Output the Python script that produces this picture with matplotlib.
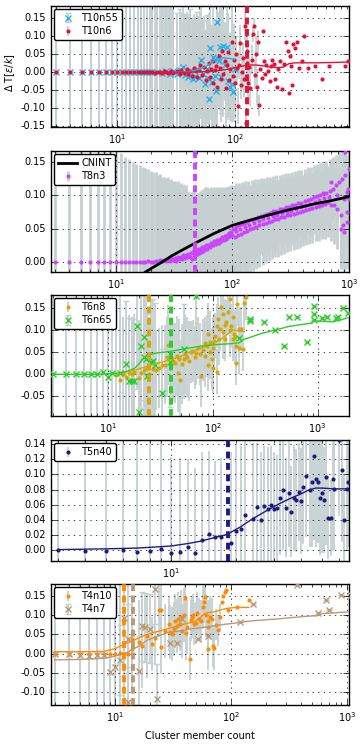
import matplotlib
matplotlib.use('Agg')
import matplotlib.pyplot as plt
from matplotlib.ticker import MultipleLocator

# ---- panel 1 : T10 ----
t10n55_x = [3, 4, 5, 6, 7, 8, 9, 10, 11, 12, 13, 14, 15, 16, 17, 18, 19, 20,
            22, 24, 26, 28, 30, 32, 34, 36, 38, 40, 42, 44, 46, 48, 50, 52, 54, 56, 58, 60,
            61, 62, 64, 66, 68, 69, 71, 72, 74, 75, 77, 80, 83, 86, 88, 92, 95, 97, 100]
t10n55_y = [0.0, 0.0, 0.0, 0.0, 0.0, 0.0, 0.0, 0.0, 0.0, 0.0, 0.0, 0.0, 0.0, 0.0, 0.0, 0.0, 0.0, 0.0,
            0.001, -0.002, 0.003, -0.004, 0.002, -0.006, 0.005, 0.014, -0.008, -0.012,
            0.004, -0.02, -0.01, 0.008, -0.015, 0.033, -0.006, -0.033, 0.01, -0.02,
            -0.075, 0.066, -0.028, 0.041, -0.01, -0.053, 0.138, 0.036, 0.03, 0.07,
            -0.012, 0.072, 0.02, 0.07, -0.025, -0.04, -0.033, -0.056, 0.01]
t10n55_err = [0.35, 0.35, 0.35, 0.35, 0.35, 0.35, 0.35, 0.35, 0.35, 0.35, 0.35, 0.35, 0.35, 0.35, 0.35, 0.35, 0.35, 0.35,
              0.2, 0.2, 0.2, 0.19, 0.19, 0.17, 0.17, 0.17, 0.17, 0.17, 0.17, 0.17, 0.16, 0.16, 0.16,
              0.15, 0.15, 0.15, 0.15, 0.15, 0.15, 0.14, 0.15, 0.14, 0.15, 0.12, 0.12, 0.13, 0.11,
              0.12, 0.1, 0.12, 0.09, 0.11, 0.1, 0.09, 0.1, 0.08, 0.09]

t10n6_x = [3, 4, 5, 6, 7, 8, 9, 10, 11, 12, 13, 14, 15, 16, 17, 18, 19, 20, 21, 22, 23, 24, 25, 26, 27, 28, 29, 30,
           32, 34, 35, 37, 39, 40, 42, 43, 45, 47, 48, 50, 51, 53, 55, 57, 58, 60, 62, 63,
           65, 66, 68, 70, 71, 73, 75, 76, 78, 80, 82, 84, 86, 88, 90, 92, 94, 96, 98, 100,
           103, 105, 106, 108, 110, 112, 115, 118, 120, 123, 124, 126, 128, 130, 133, 136, 140, 143, 145, 148,
           152, 155, 158, 160, 165, 170, 174, 178, 182, 186, 190, 198, 202, 208, 215, 222, 229, 235, 244, 254,
           262, 274, 282, 290, 294, 300, 306, 314, 326, 339, 350, 372, 386, 420, 483, 553, 630, 870, 925]
t10n6_y = [0.0, 0.0, 0.0, 0.0, 0.0, 0.0, 0.0, 0.0, 0.0, 0.0, 0.0, 0.0, 0.0, 0.0, 0.0, 0.0, 0.001, 0.0,
           -0.001, 0.0, 0.001, -0.001, 0.002, 0.0, -0.002, 0.001, 0.002, -0.001,
           0.003, -0.004, 0.006, -0.002, 0.008, -0.006, 0.002, -0.01, 0.012, 0.004,
           -0.014, 0.007, 0.02, -0.008, 0.015, -0.022, 0.003, 0.025, -0.012, 0.01,
           0.03, -0.03, 0.005, 0.018, -0.04, 0.045, 0.012, -0.018, 0.06, -0.005,
           0.03, -0.045, 0.02, 0.055, -0.022, 0.01, 0.083, -0.01, 0.035, -0.03,
           0.05, 0.013, -0.095, 0.02, 0.08, -0.035, 0.0, 0.04, -0.02, 0.129,
           -0.14, 0.06, 0.025, -0.03, 0.015, -0.045, 0.035, 0.105, 0.129, -0.008,
           0.05, -0.04, 0.083, -0.092, 0.01, -0.015, 0.115, 0.03, -0.005, 0.02,
           0.003, -0.025, 0.017, 0.033, 0.022, -0.02, -0.042, 0.008, 0.03, -0.047,
           0.022, 0.083, 0.06, -0.058, 0.044, 0.017, -0.036, 0.078, 0.067, 0.083,
           0.012, 0.03, 0.1, 0.013, 0.017, -0.02, 0.017, 0.017, 0.03]
t10n6_err = [0.35, 0.35, 0.35, 0.35, 0.35, 0.35, 0.35, 0.35, 0.35, 0.35, 0.35, 0.35, 0.35, 0.35,
             0.35, 0.35, 0.35, 0.35, 0.35, 0.35, 0.35, 0.35, 0.35, 0.35, 0.35, 0.35, 0.35, 0.35,
             0.16, 0.16, 0.16, 0.16, 0.16, 0.16, 0.16, 0.16, 0.15, 0.15, 0.15, 0.15, 0.15, 0.15,
             0.14, 0.14, 0.14, 0.14,
             0.12, 0.12, 0.12, 0.12, 0.12, 0.12, 0.12, 0.12, 0.12, 0.12, 0.12, 0.12, 0.11, 0.11,
             0.11, 0.11, 0.1, 0.1, 0.1, 0.1, 0.1, 0.1,
             0.05, 0.04, 0.05, 0.04, 0.05, 0.04, 0.05, 0.04, 0.05, 0.04, 0.02, 0.04, 0.05, 0.05,
             0.04, 0.05, 0.04, 0.02, 0.02, 0.04, 0.05, 0.05, 0.03, 0.03,
             0.0, 0.0, 0.0, 0.0, 0.0, 0.0, 0.0, 0.0, 0.0, 0.0, 0.0, 0.0, 0.0, 0.0, 0.0, 0.0, 0.0,
             0.0, 0.0, 0.0, 0.0, 0.0, 0.0, 0.0, 0.0, 0.0, 0.0, 0.0, 0.0, 0.0, 0.0, 0.0, 0.0, 0.0, 0.0]
t10n55_fit_x = [30, 40, 50, 55, 60, 65, 70, 80, 90, 100]
t10n55_fit_y = [0.0, 0.001, 0.008, 0.014, 0.021, 0.029, 0.036, 0.04, 0.038, 0.036]
t10n6_fit_x = [30, 40, 50, 60, 70, 80, 90, 100, 110, 120, 130, 150, 180, 200, 230, 260, 290, 330, 400, 500, 700, 900]
t10n6_fit_y = [0.0, 0.0, 0.001, 0.002, 0.004, 0.006, 0.009, 0.012, 0.015, 0.018, 0.02, 0.02, 0.017,
               0.014, 0.013, 0.014, 0.024, 0.026, 0.026, 0.026, 0.027, 0.028]
t10_cut = 128

# ---- panel 2 : T8 ----
t8n3_x = [3, 4, 5, 6, 7, 8, 9, 10, 11, 12, 13, 14, 15, 16, 17, 18, 19, 20,
          21, 22, 23, 24, 25, 26, 27, 28, 29, 30, 31, 32, 33, 34, 35, 36, 37, 38, 39, 40,
          41, 42, 43, 44, 45, 46, 47, 48, 49, 50, 51, 52, 53, 54, 55, 56, 57, 58, 59, 60,
          62, 64, 66, 68, 70, 72, 74, 76, 78, 80, 82, 84, 86, 88, 90, 92, 94, 96, 98, 100,
          102, 105, 108, 111, 114, 118, 121, 125, 129, 133, 137, 141, 146, 150, 155, 160, 165, 170, 175, 181,
          186, 192, 198, 204, 211, 217, 224, 231, 238, 246, 253, 261, 269, 278, 287, 296, 305, 314, 324, 334,
          345, 356, 367, 378, 390, 402, 415, 428, 441, 455, 469, 484, 499, 515, 531, 548, 565, 583, 601, 620,
          639, 659, 680, 701, 723, 746, 769, 793, 818, 843, 870, 897, 925, 954, 984,
          700, 780, 850, 880, 900, 920, 950, 960, 990, 1000,
          107, 116, 127, 139, 152, 168, 184, 201, 221, 243, 265, 291, 319, 350, 384, 421, 461, 507, 556, 611, 671]
t8n3_y = [0.0, 0.0, 0.0, 0.0, 0.0, 0.0, 0.0, 0.0, 0.0, 0.0, 0.0, 0.0, 0.0, 0.0, 0.0, 0.0, 0.001, 0.0,
          0.0, 0.002, 0.0, 0.003, 0.001, 0.003, 0.002, 0.005, 0.002, 0.006,
          0.003, 0.006, 0.002, 0.008, 0.004, 0.008, 0.005, 0.01, 0.006, 0.011,
          0.007, 0.012, 0.008, 0.013, 0.005, 0.015, 0.018, 0.01, 0.016, 0.012,
          0.019, 0.014, 0.02, 0.015, 0.022, 0.017, 0.023, 0.019, 0.025, 0.02,
          0.026, 0.022, 0.029, 0.025, 0.031, 0.027, 0.033, 0.029, 0.035, 0.031,
          0.037, 0.033, 0.039, 0.035, 0.041, 0.037, 0.043, 0.039, 0.045, 0.041,
          0.05, 0.038, 0.053, 0.041, 0.055, 0.042, 0.057, 0.045, 0.059, 0.047,
          0.061, 0.049, 0.063, 0.051, 0.065, 0.053, 0.067, 0.055, 0.069, 0.057,
          0.07, 0.058, 0.072, 0.06, 0.074, 0.062, 0.076, 0.064, 0.077, 0.065,
          0.079, 0.067, 0.08, 0.068, 0.082, 0.07, 0.083, 0.071, 0.085, 0.072,
          0.086, 0.074, 0.088, 0.075, 0.089, 0.077, 0.091, 0.078, 0.093, 0.08,
          0.095, 0.081, 0.097, 0.083, 0.099, 0.084, 0.101, 0.086, 0.104, 0.087,
          0.103, 0.09, 0.107, 0.086, 0.11, 0.085, 0.115, 0.08, 0.12, 0.07,
          0.125, 0.095, 0.13, 0.06, 0.11,
          0.12, 0.1, 0.05, 0.055, 0.045, 0.165, 0.105, 0.075, 0.14, 0.095,
          0.046, 0.049, 0.052, 0.055, 0.058, 0.061, 0.064, 0.066, 0.069, 0.071,
          0.073, 0.075, 0.077, 0.08, 0.082, 0.084, 0.087, 0.09, 0.093, 0.096, 0.097]
t8n3_err = [0.3, 0.3, 0.3, 0.3, 0.3, 0.3, 0.3, 0.167, 0.163, 0.158, 0.154, 0.15, 0.147, 0.145, 0.143,
            0.141, 0.139, 0.137,
            0.135, 0.133, 0.131, 0.129, 0.127, 0.125, 0.124, 0.122, 0.121, 0.119,
            0.118, 0.116, 0.115, 0.113, 0.112, 0.11, 0.109, 0.107, 0.106, 0.104,
            0.097, 0.095, 0.094, 0.092, 0.092, 0.09, 0.087, 0.092, 0.087, 0.09,
            0.085, 0.09, 0.086, 0.091, 0.086, 0.092, 0.087, 0.093, 0.087, 0.093,
            0.085, 0.088, 0.083, 0.086, 0.081, 0.084, 0.079, 0.082, 0.077, 0.08,
            0.075, 0.078, 0.073, 0.076, 0.072, 0.075, 0.071, 0.074, 0.07, 0.073,
            0.066, 0.07, 0.065, 0.069, 0.064, 0.068, 0.063, 0.067, 0.062, 0.066,
            0.061, 0.065, 0.06, 0.064, 0.059, 0.063, 0.058, 0.062, 0.057, 0.061,
            0.056, 0.06, 0.055, 0.059, 0.054, 0.058, 0.053, 0.057, 0.053, 0.057,
            0.052, 0.056, 0.052, 0.056, 0.051, 0.055, 0.051, 0.055, 0.05, 0.054,
            0.05, 0.054, 0.05, 0.054, 0.049, 0.053, 0.049, 0.053, 0.049, 0.053,
            0.048, 0.052, 0.048, 0.052, 0.048, 0.052, 0.048, 0.052, 0.048, 0.052,
            0.048, 0.052, 0.048, 0.055, 0.047, 0.058, 0.046, 0.06, 0.045, 0.065,
            0.045, 0.055, 0.044, 0.07, 0.05,
            0.03, 0.04, 0.06, 0.06, 0.06, 0.02, 0.04, 0.05, 0.03, 0.04,
            0.066, 0.064, 0.063, 0.062, 0.06, 0.058, 0.057, 0.055, 0.054, 0.053,
            0.052, 0.051, 0.051, 0.05, 0.05, 0.049, 0.049, 0.048, 0.048, 0.048, 0.047]
cnint_x = [18, 20, 25, 30, 40, 50, 70, 100, 150, 200, 300, 500, 700, 1000]
cnint_y = [-0.015, -0.01, 0.0, 0.009, 0.021, 0.03, 0.043, 0.055, 0.064, 0.07, 0.078, 0.087, 0.092, 0.098]
t8_cut = 48

# ---- panel 3 : T6 ----
t6n8_x = [12, 13, 14, 15, 16, 17, 18, 20, 21, 22, 24, 25, 27, 29, 31, 33, 35, 37, 38, 40,
          42, 44, 46, 47, 48, 49, 51, 53, 55, 57, 60, 62, 65, 68, 70, 73, 76, 78, 81, 84,
          88, 91, 94, 98, 101, 105, 109, 110, 113, 117, 121, 126, 131, 135, 140, 146, 150, 156, 161, 167,
          168, 172, 178, 187, 193, 209,
          85, 95, 103, 115, 125, 130, 145, 155, 165, 180, 200, 90, 100]
t6n8_y = [-0.002, -0.012, 0.0, -0.007, 0.003, 0.0, 0.005, -0.008, 0.004, 0.01,
          0.015, 0.0, 0.011, 0.01, 0.015, 0.02, 0.022, 0.038, 0.066, 0.038,
          0.03, 0.026, 0.041, 0.004, 0.034, -0.012, 0.023, 0.035, 0.045, 0.038,
          0.03, 0.05, 0.053, 0.038, 0.047, 0.06, 0.045, -0.004, 0.055, 0.041,
          0.064, 0.09, 0.072, 0.034, 0.06, 0.087, 0.109, 0.006, 0.124, 0.102,
          0.151, 0.136, 0.079, 0.117, 0.14, 0.17, 0.109, 0.079, 0.09, 0.064,
          0.026, 0.158, 0.102, 0.102, 0.057, 0.173,
          0.07, 0.05, 0.075, 0.08, 0.095, 0.11, 0.1, 0.13, 0.085, 0.06, 0.16, 0.022, 0.015]
t6n8_err = [0.13, 0.13, 0.13, 0.13, 0.13, 0.13, 0.13, 0.13, 0.13, 0.13, 0.13, 0.13,
            0.09, 0.09, 0.09, 0.09, 0.09, 0.09, 0.09, 0.09, 0.09, 0.09, 0.09, 0.09, 0.09, 0.09,
            0.09, 0.09, 0.09, 0.09, 0.09,
            0.07, 0.07, 0.07, 0.07, 0.07, 0.07, 0.07, 0.07, 0.07, 0.07, 0.07, 0.07, 0.07, 0.07,
            0.05, 0.05, 0.05, 0.05, 0.05, 0.05, 0.05, 0.05, 0.05, 0.05, 0.05, 0.05, 0.05, 0.05,
            0.05, 0.05, 0.05, 0.05, 0.05, 0.05, 0.05,
            0.06, 0.06, 0.06, 0.06, 0.06, 0.06, 0.06, 0.06, 0.06, 0.06, 0.06, 0.06, 0.06]
t6n65_x = [3, 4, 5, 6, 7, 8, 9, 10, 11, 13, 15, 16, 17, 18, 19, 20, 21, 22, 22, 23, 24, 26, 27, 28,
           33, 39, 53, 70, 180, 225, 228, 307, 389, 481, 538, 635, 800, 920, 925, 930,
           1100, 1240, 1490, 1550, 1760, 1930]
t6n65_y = [0.0, 0.0, 0.0, 0.0, 0.0, 0.0, 0.006, -0.006, 0.002, 0.004, 0.024, -0.014, -0.016, -0.016,
           0.108, -0.084, 0.063, 0.083, 0.038, 0.034, -0.004, 0.027, 0.03, 0.02,
           -0.042, 0.027, 0.058, 0.177, 0.082, 0.125, 0.12, 0.118, 0.1, 0.063, 0.13, 0.13,
           0.073, 0.154, 0.135, 0.122, 0.127, 0.13, 0.127, 0.13, 0.15, 0.137]
t6n65_err = [0.3, 0.3, 0.3, 0.3, 0.3, 0.3, 0.3, 0.3, 0.3, 0.3,
             0.14, 0.14, 0.14, 0.14, 0.14, 0.14, 0.14, 0.14, 0.14, 0.14, 0.14, 0.14, 0.14, 0.14,
             0.1, 0.1, 0.1, 0.1,
             0.0, 0.0, 0.0, 0.0, 0.0, 0.0, 0.0, 0.0, 0.0, 0.0, 0.0, 0.0, 0.0, 0.0, 0.0, 0.0, 0.0, 0.0]
t6n8_fit_x = [12, 15, 20, 25, 30, 40, 50, 60, 75, 90, 110, 130, 156, 180, 200]
t6n8_fit_y = [0.0, 0.005, 0.012, 0.02, 0.025, 0.033, 0.04, 0.05, 0.057, 0.065, 0.074, 0.085, 0.1, 0.097, 0.096]
t6n65_fit_x = [3, 8, 13, 15, 18, 20, 22, 25, 29, 35, 40, 50, 75, 109, 150, 180, 195, 220,
               301, 400, 536, 700, 869, 900, 1000, 1395, 1930]
t6n65_fit_y = [0.0, 0.0, 0.003, 0.006, 0.013, 0.024, 0.037, 0.044, 0.048, 0.05, 0.052, 0.056, 0.063,
               0.067, 0.069, 0.071, 0.078, 0.082, 0.093, 0.1, 0.108, 0.112, 0.115, 0.12, 0.12, 0.118, 0.127]
t6n8_cut = 25
t6n65_cut = 40

# ---- panel 4 : T5 ----
t5n40_x = [3, 4, 5, 6, 7, 8, 9, 10, 11, 12, 13, 14, 15, 16, 17, 19, 20, 21, 22, 24,
           25, 26, 27, 28, 29, 30, 31, 32, 33, 34, 35, 36, 37, 38, 39, 40, 41, 42, 44,
           45, 46, 47, 48, 49, 50, 51, 52, 53, 55, 56, 57, 60, 62, 63, 65, 66]
t5n40_y = [0.0, -0.001, -0.001, 0.0, -0.002, -0.001, 0.002, -0.004, -0.002, 0.005, -0.003,
           0.014, 0.021, 0.018, 0.017, 0.01, 0.025, 0.028, 0.046, 0.041,
           0.057, 0.04, 0.058, 0.054, 0.06, 0.055, 0.056, 0.069, 0.08, 0.056, 0.076, 0.051, 0.069, 0.066,
           0.077, 0.065, 0.083, 0.098, 0.079,
           0.09, 0.124, 0.094, 0.09, 0.069, 0.076, 0.066, 0.097, 0.043,
           0.043, 0.094, 0.081, 0.145, 0.106, 0.04, 0.081, 0.09]
t5n40_err = [0.3, 0.3, 0.3, 0.3, 0.3, 0.3, 0.3, 0.127, 0.123, 0.115, 0.112, 0.115, 0.11, 0.1, 0.105,
             0.12, 0.115, 0.11, 0.1, 0.1,
             0.085, 0.09, 0.08, 0.082, 0.078, 0.075, 0.07, 0.075, 0.08, 0.065, 0.072, 0.06, 0.07, 0.068,
             0.065, 0.07, 0.075, 0.08, 0.075,
             0.085, 0.11, 0.09, 0.08, 0.075, 0.08, 0.07, 0.09, 0.055,
             0.05, 0.095, 0.08, 0.1, 0.095, 0.06, 0.08, 0.085]
t5n40_fit_x = [3, 5, 7, 10, 12, 13.7, 16, 18.2, 21, 24, 28, 32, 36, 39.7, 43, 46.6, 50, 57, 66]
t5n40_fit_y = [0.001, 0.002, 0.003, 0.0057, 0.009, 0.012, 0.017, 0.021, 0.031, 0.042, 0.053, 0.062,
               0.069, 0.074, 0.079, 0.082, 0.082, 0.081, 0.081]
t5_cut = 18.4

# ---- panel 5 : T4 ----
t4n10_x = [3, 4, 5, 6, 7, 8, 9, 10, 11, 12, 13, 14, 14, 16, 17, 19, 21, 22, 24, 25, 25,
           27, 29, 30, 31, 32, 33, 34, 35, 36, 37, 38, 39, 40, 41, 42, 44, 45, 46, 47, 48,
           50, 51, 53, 55, 57, 58, 60, 61, 63, 63, 64, 66, 68, 70, 71,
           75, 78, 80, 83, 85, 88, 90, 95, 112, 142]
t4n10_y = [0.0, 0.0, 0.0, 0.0, 0.0, 0.0, 0.0, 0.0, 0.001, 0.0, 0.0,
           0.038, 0.012, 0.03, 0.02, 0.047, 0.025, 0.04, 0.112, 0.114, 0.018,
           0.06, 0.077, 0.055, 0.05, 0.065, 0.085, 0.071, 0.09, 0.077, 0.095,
           0.06, 0.1, 0.144, 0.053, 0.07, -0.013, 0.087, 0.095, 0.1, 0.077,
           0.08, 0.105, 0.09, 0.085, 0.12, 0.135, 0.148, 0.1, 0.085, 0.012,
           0.07, 0.095, 0.09, 0.02, 0.014, 0.075, 0.061, 0.095, 0.134, 0.15,
           0.16, 0.165, 0.113, 0.12, 0.14]
t4n10_err = [0.3, 0.3, 0.3, 0.3, 0.3, 0.3, 0.3, 0.3, 0.3, 0.3, 0.3,
             0.11, 0.11, 0.11, 0.11, 0.11,
             0.07, 0.07, 0.07, 0.07, 0.07, 0.07, 0.07, 0.07, 0.07, 0.07,
             0.07, 0.07, 0.07, 0.07, 0.07, 0.07, 0.07, 0.07, 0.07, 0.07,
             0.055, 0.055, 0.055, 0.055, 0.055, 0.055, 0.055, 0.055, 0.055, 0.055,
             0.055, 0.055, 0.055, 0.055, 0.055, 0.055, 0.055, 0.055, 0.055, 0.055,
             0.04, 0.04, 0.035, 0.0, 0.0, 0.0, 0.0, 0.0, 0.0, 0.0]
t4n7_x = [3, 4, 5, 6, 7, 8, 9, 10, 11, 12, 13, 13, 16, 17, 18, 20, 22, 23,
          30, 34, 38, 52, 63, 120, 156, 370, 570, 660, 705, 890, 1080]
t4n7_y = [-0.002, 0.0, -0.003, -0.005, -0.004, -0.003, -0.048, -0.035, -0.016, 0.092, 0.039, -0.124,
          -0.044, 0.071, 0.068, 0.065, 0.167, -0.118,
          0.029, 0.028, 0.09, 0.039, 0.047, 0.083, 0.129, 0.178, 0.105, 0.138, 0.113, 0.152, 0.152]
t4n7_err = [0.3, 0.3, 0.3, 0.3, 0.3, 0.3, 0.3, 0.3,
            0.09, 0.09, 0.09, 0.09, 0.09, 0.09, 0.09, 0.09, 0.09, 0.09,
            0.0, 0.0, 0.0, 0.0, 0.0, 0.0, 0.0, 0.0, 0.0, 0.0, 0.0, 0.0, 0.0]
t4n10_fit_x = [3, 5, 8, 10, 12, 14.6, 17, 20, 25, 32.5, 40, 48.6, 55, 60, 72.6, 85, 95, 110, 142]
t4n10_fit_y = [0.005, 0.005, 0.006, 0.013, 0.025, 0.035, 0.045, 0.052, 0.06, 0.07, 0.077, 0.083,
               0.095, 0.105, 0.109, 0.115, 0.118, 0.12, 0.12]
t4n7_fit_x = [3, 5, 8, 10, 12, 14, 16, 19, 22, 28, 35, 42, 60, 77, 100, 150, 250, 410, 570, 600, 700, 1000, 1080]
t4n7_fit_y = [-0.016, -0.015, -0.012, -0.006, 0.0, 0.01, 0.02, 0.035, 0.043, 0.054, 0.058, 0.063, 0.069,
              0.074, 0.078, 0.085, 0.09, 0.096, 0.099, 0.104, 0.105, 0.108, 0.109]
t4n10_cut = 12
t4n7_cut = 14.2

ERR_GRAY = '#c6d0d0'

plt.style.use('classic')
plt.rcParams.update({'font.size': 7, 'font.family': ['DejaVu Sans'],
                     'mathtext.fontset': 'dejavusans',
                     'axes.unicode_minus': False,
                     'lines.scale_dashes': False,
                     'figure.facecolor': 'white', 'savefig.facecolor': 'white'})


def add_series(ax, x, y, err, color, marker, ms, label, elw=1.3):
    if marker == 'x':
        eb = ax.errorbar(x, y, yerr=err, fmt='x', color=color, mec=color, ms=ms, mew=1.0,
                         ecolor=ERR_GRAY, elinewidth=elw, capsize=2, label=label)
    else:
        eb = ax.errorbar(x, y, yerr=err, fmt='o', color=color, mec=color, ms=ms, mew=0,
                         ecolor=ERR_GRAY, elinewidth=elw, capsize=2, label=label)
    eb[0].set_zorder(3)
    for art in list(eb[1]) + list(eb[2]):
        art.set_zorder(1.5)
    return eb


def add_cut(ax, x, color):
    ax.axvline(x, color=color, lw=2.8, linestyle=(0, (5.0, 3.2)),
               dash_capstyle='butt', zorder=4)


def finish(ax, xlim, ylim, step):
    ax.set_xscale('log')
    ax.set_xlim(xlim)
    ax.set_ylim(ylim)
    ax.yaxis.set_major_locator(MultipleLocator(step))
    ax.grid(True)
    ax.legend(loc='upper left', numpoints=1, fancybox=True, fontsize=7,
              handlelength=2.0, borderpad=0.4, labelspacing=0.35, handletextpad=0.4,
              borderaxespad=0.3)


fig = plt.figure(figsize=(3.6, 7.5), dpi=100)
bottoms = [0.8307, 0.6373, 0.4453, 0.252, 0.06]
axs = [fig.add_axes([0.142, b, 0.828, 0.161]) for b in bottoms]

# panel 1
ax = axs[0]
add_series(ax, t10n55_x, t10n55_y, t10n55_err, '#2ab0e6', 'x', 4.5, 'T10n55')
add_series(ax, t10n6_x, t10n6_y, t10n6_err, '#dc143c', 'o', 3, 'T10n6')
ax.plot(t10n55_fit_x, t10n55_fit_y, color='#2ab0e6', lw=1, zorder=3.5)
ax.plot(t10n6_fit_x, t10n6_fit_y, color='#dc143c', lw=1, zorder=3.5)
add_cut(ax, t10_cut, '#dc143c')
finish(ax, (2.75, 940), (-0.152, 0.183), 0.05)
ax.set_ylabel(r'$\Delta$ T[$\epsilon/k$]')
ax.yaxis.set_label_coords(-0.115, 0.45)

# panel 2
ax = axs[1]
ax.plot(cnint_x, cnint_y, color='k', lw=2, zorder=3.5, label='CNINT')
add_series(ax, t8n3_x, t8n3_y, t8n3_err, '#cc44ff', 'o', 3, 'T8n3', elw=2.0)
add_cut(ax, t8_cut, '#cc44ff')
finish(ax, (2.8, 1000), (-0.015, 0.166), 0.05)

# panel 3
ax = axs[2]
add_series(ax, t6n8_x, t6n8_y, t6n8_err, '#d4a60a', 'o', 3, 'T6n8')
add_series(ax, t6n65_x, t6n65_y, t6n65_err, '#2bcc2b', 'x', 4.5, 'T6n65')
ax.plot(t6n8_fit_x, t6n8_fit_y, color='#d4a60a', lw=1, zorder=3.5)
ax.plot(t6n65_fit_x, t6n65_fit_y, color='#2bcc2b', lw=1, zorder=3.5)
add_cut(ax, t6n8_cut, '#d4a60a')
add_cut(ax, t6n65_cut, '#2bcc2b')
finish(ax, (2.9, 2000), (-0.094, 0.178), 0.05)

# panel 4
ax = axs[3]
add_series(ax, t5n40_x, t5n40_y, t5n40_err, '#1c1c80', 'o', 3, 'T5n40')
ax.plot(t5n40_fit_x, t5n40_fit_y, color='#1c1c80', lw=1, zorder=3.5)
add_cut(ax, t5_cut, '#1c1c80')
finish(ax, (2.8, 66.7), (-0.014, 0.145), 0.02)

# panel 5
ax = axs[4]
add_series(ax, t4n10_x, t4n10_y, t4n10_err, '#ff8c00', 'o', 3, 'T4n10')
add_series(ax, t4n7_x, t4n7_y, t4n7_err, '#bb9977', 'x', 4.5, 'T4n7')
ax.plot(t4n10_fit_x, t4n10_fit_y, color='#ff8c00', lw=1, zorder=3.5)
ax.plot(t4n7_fit_x, t4n7_fit_y, color='#bb9977', lw=1, zorder=3.5)
add_cut(ax, t4n10_cut, '#ff8c00')
add_cut(ax, t4n7_cut, '#bb9977')
finish(ax, (2.8, 1050), (-0.133, 0.18), 0.05)
ax.set_xlabel('Cluster member count')

fig.savefig('out.png', dpi=100)
